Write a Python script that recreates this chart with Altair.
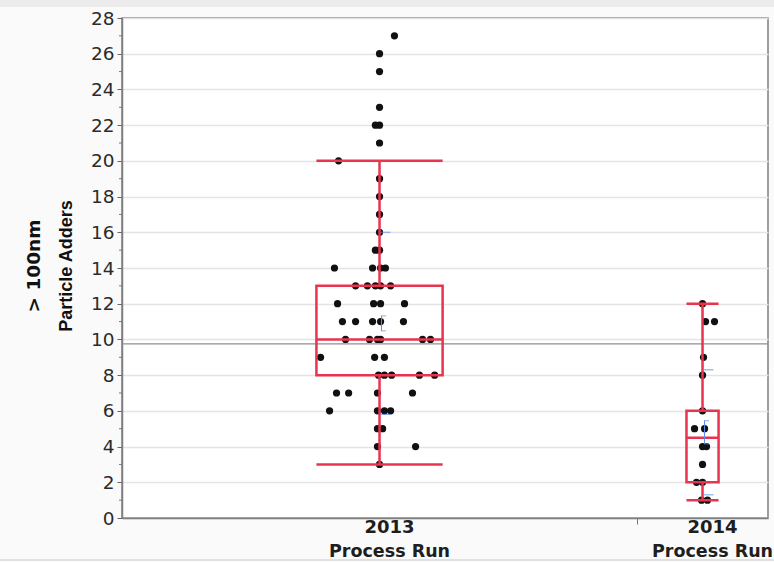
import altair as alt
import pandas as pd

# ---- data -------------------------------------------------------------
groups = ["2013", "2014"]

# Particle adders per wafer, 2013 process run, with horizontal jitter
# (fraction of the group's half width)
values_2013 = [27, 26, 25, 23, 22, 22, 21, 20, 19, 18, 17, 16, 15, 15,
               14, 14, 14, 14,
               13, 13, 13, 13, 13,
               12, 12, 12, 12,
               11, 11, 11, 11, 11,
               10, 10, 10, 10, 10, 10,
               9, 9, 9,
               8, 8, 8, 8, 8,
               7, 7, 7, 7,
               6, 6, 6, 6,
               5, 5,
               4, 4,
               3]
jitter_2013 = [0.058, 0.0, 0.0, 0.0, -0.016, 0.0, 0.0, -0.159, 0.0, 0.0, 0.0, 0.0, -0.016, 0.0,
               -0.175, -0.027, 0.004, 0.023,
               -0.093, -0.047, -0.016, 0.004, 0.043,
               -0.163, -0.023, 0.004, 0.097,
               -0.144, -0.093, -0.027, 0.004, 0.093,
               -0.132, -0.039, -0.008, 0.004, 0.167, 0.198,
               -0.229, -0.019, 0.019,
               -0.004, 0.019, 0.047, 0.155, 0.214,
               -0.167, -0.120, -0.008, 0.128,
               -0.194, -0.008, 0.019, 0.043,
               -0.008, 0.012,
               -0.008, 0.140,
               0.0]

# 2014 process run
values_2014 = [12, 11, 11, 9, 8, 6, 5, 5, 4, 4, 3, 2, 2, 1, 1]
jitter_2014 = [0.0, 0.046, 0.183, 0.015, 0.0, 0.0, -0.122, 0.031, 0.0, 0.061,
               0.0, -0.092, 0.0, -0.015, 0.076]

# Box plot summaries
q1 = [8, 2]
median = [10, 4.5]
q3 = [13, 6]
whisker_lo = [3, 1]
whisker_hi = [20, 12]

# Mean error bars and standard deviation lines
group_mean = [10.9, 4.8]
mean_err = [0.42, 0.65]
group_sd = [5.1, 3.5]

grand_mean = 9.75

y_ticks = list(range(0, 29, 2))
y_minor = list(range(1, 28, 2))

# ---- layout of the groups (width proportional to sample size) ----------
counts = [len(values_2013), len(values_2014)]
total = sum(counts)
starts = [0, counts[0]]
centers = [s + n / 2 for s, n in zip(starts, counts)]
halves = [n / 2 for n in counts]
BOX_FRAC = 0.245

pts = pd.DataFrame({
    "group": ["2013"] * counts[0] + ["2014"] * counts[1],
    "value": values_2013 + values_2014,
    "x": [centers[0] + j * halves[0] for j in jitter_2013]
         + [centers[1] + j * halves[1] for j in jitter_2014],
})

box = pd.DataFrame({
    "group": groups,
    "center": centers,
    "left": [c - BOX_FRAC * h for c, h in zip(centers, halves)],
    "right": [c + BOX_FRAC * h for c, h in zip(centers, halves)],
    "q1": q1, "median": median, "q3": q3,
    "lo": whisker_lo, "hi": whisker_hi,
    "se_lo": [m - e for m, e in zip(group_mean, mean_err)],
    "se_hi": [m + e for m, e in zip(group_mean, mean_err)],
    "sd_lo": [m - s for m, s in zip(group_mean, group_sd)],
    "sd_hi": [m + s for m, s in zip(group_mean, group_sd)],
})

labels = pd.DataFrame({"x": centers, "year": groups, "name": ["Process Run"] * 2})

# ---- scales / axes ----------------------------------------------------
RED = "#E8344F"
BLUE = "#5B8CF0"
FONT = "DejaVu Sans"

xs = alt.Scale(domain=[0, total], nice=False, zero=False)
ys = alt.Scale(domain=[0, 28], nice=False)

x_axis = alt.Axis(values=[counts[0]], labels=False, title="", grid=False,
                  tickSize=6, tickColor="#777", domainColor="#7f7f7f", domainWidth=1.5)
y_axis = alt.Axis(values=y_ticks, title="", labelFont=FONT, labelFontSize=18.5,
                  labelColor="#2b2b2b", labelPadding=3, tickSize=5, tickColor="#666",
                  domainColor="#7f7f7f", domainWidth=1.5,
                  grid=True, gridColor="#e4e4e4", gridWidth=1.5)


def X(f):
    return alt.X(f"{f}:Q", scale=xs, axis=x_axis)


def Y(f):
    return alt.Y(f"{f}:Q", scale=ys, axis=y_axis)


# ---- layers -----------------------------------------------------------
# thin grey strips along the top and bottom edges of the report window
frame_top = alt.Chart(pd.DataFrame({"k": [0]})).mark_rect(color="#ececec").encode(
    x=alt.value(-122), x2=alt.value(652), y=alt.value(-18), y2=alt.value(-11))
frame_bot = alt.Chart(pd.DataFrame({"k": [0]})).mark_rule(color="#d8d8d8", strokeWidth=1.5).encode(
    x=alt.value(-122), x2=alt.value(652), y=alt.value(542))

minor = alt.Chart(pd.DataFrame({"v": y_minor})).mark_rule(color="#777").encode(
    y=Y("v"), x=alt.value(-3), x2=alt.value(0))

mean_line = alt.Chart(pd.DataFrame({"m": [grand_mean]})).mark_rule(
    color="#8f8f8f", strokeWidth=1.3).encode(y=Y("m"))

dots = alt.Chart(pts).mark_circle(color="#111111", size=52, opacity=1).encode(
    x=X("x"), y=Y("value"))

bb = alt.Chart(box)
box_rect = bb.mark_rect(fillOpacity=0, stroke=RED, strokeWidth=2.5).encode(
    x=X("left"), x2="right", y=Y("q1"), y2="q3")
med_rule = bb.mark_rule(color=RED, strokeWidth=2.5).encode(
    x=X("left"), x2="right", y=Y("median"))
whisk_up = bb.mark_rule(color=RED, strokeWidth=2.5).encode(x=X("center"), y=Y("q3"), y2="hi")
whisk_dn = bb.mark_rule(color=RED, strokeWidth=2.5).encode(x=X("center"), y=Y("lo"), y2="q1")
cap_hi = bb.mark_rule(color=RED, strokeWidth=2.5).encode(x=X("left"), x2="right", y=Y("hi"))
cap_lo = bb.mark_rule(color=RED, strokeWidth=2.5).encode(x=X("left"), x2="right", y=Y("lo"))

se_bar = bb.mark_rule(color=BLUE, strokeWidth=1, xOffset=2).encode(
    x=X("center"), y=Y("se_lo"), y2="se_hi")
se_cap_lo = bb.mark_tick(color=BLUE, orient="horizontal", size=5, thickness=1, xOffset=4).encode(
    x=X("center"), y=Y("se_lo"))
se_cap_hi = bb.mark_tick(color=BLUE, orient="horizontal", size=5, thickness=1, xOffset=4).encode(
    x=X("center"), y=Y("se_hi"))
sd_lo = bb.mark_tick(color=BLUE, orient="horizontal", size=10, thickness=1.2, xOffset=6).encode(
    x=X("center"), y=Y("sd_lo"))
sd_hi = bb.mark_tick(color=BLUE, orient="horizontal", size=10, thickness=1.2, xOffset=6).encode(
    x=X("center"), y=Y("sd_hi"))

lab = alt.Chart(labels)
year_text = lab.mark_text(font=FONT, fontSize=18, fontWeight="bold", color="#1e1e1e",
                          align="center", baseline="alphabetic", dx=10).encode(
    x=X("x"), y=alt.value(515), text="year:N")
name_text = lab.mark_text(font=FONT, fontSize=17.5, fontWeight="bold", color="#1e1e1e",
                          align="center", baseline="alphabetic", dx=10).encode(
    x=X("x"), y=alt.value(539), text="name:N")

title_1 = alt.Chart(pd.DataFrame({"t": ["> 100nm"]})).mark_text(
    font=FONT, fontSize=18.5, fontWeight="bold", color="#111", angle=270,
    align="center", baseline="middle").encode(
    x=alt.value(-88), y=alt.value(248), text="t:N")
title_2 = alt.Chart(pd.DataFrame({"t": ["Particle Adders"]})).mark_text(
    font="Liberation Sans", fontSize=18, fontWeight="bold", color="#111", angle=270,
    align="center", baseline="middle").encode(
    x=alt.value(-55), y=alt.value(248), text="t:N")

chart = alt.layer(
    frame_top, frame_bot, minor, mean_line, dots,
    box_rect, med_rule, whisk_up, whisk_dn, cap_hi, cap_lo,
    se_bar, se_cap_lo, se_cap_hi, sd_lo, sd_hi,
    year_text, name_text, title_1, title_2,
).properties(
    width=646, height=500,
    padding={"left": 122, "top": 18, "right": 6, "bottom": 44},
    autosize=alt.AutoSizeParams(type="none"),
    background="#fafafa",
).configure_view(stroke="#7f7f7f", strokeWidth=1.5, fill="white")

chart.save("out.html", embed_options={"renderer": "svg", "actions": False})
